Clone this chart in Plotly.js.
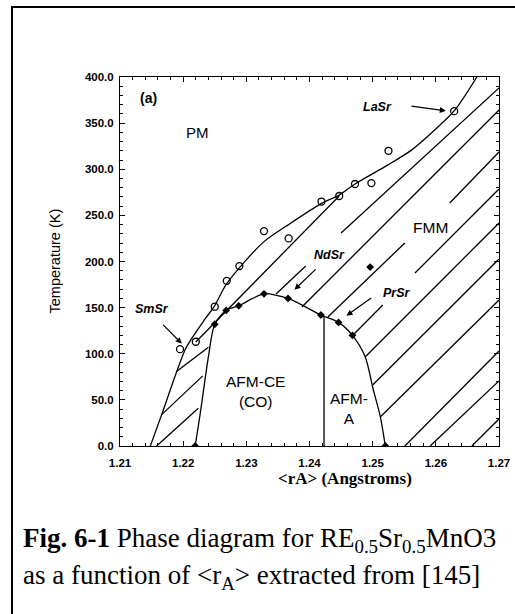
<!DOCTYPE html>
<html><head><meta charset="utf-8">
<script src="https://cdn.plot.ly/plotly-3.0.1.min.js"></script>
<style>
body{margin:0;background:#fff;overflow:hidden}
#chart{position:absolute;left:0;top:0;width:515px;height:614px}
#frame{position:absolute;left:11px;top:6px;width:520px;height:620px;border-left:2px solid #000;border-top:2px solid #000;pointer-events:none;z-index:5}
</style>
</head><body><div id="chart"></div><div id="frame"></div>
<script>
// Open circles: Tc (K) vs <rA>
const tcX = [1.2195, 1.2220, 1.2250, 1.2269, 1.2289, 1.2328, 1.2367, 1.2419, 1.2447, 1.2472, 1.2498, 1.2525, 1.2629];
const tcY = [105, 113, 151, 179, 195, 233, 225, 265, 271, 284, 285, 320, 363];
// Filled diamonds: Tco / TN
const tnX = [1.2219, 1.2250, 1.2268, 1.2288, 1.2328, 1.2366, 1.2418, 1.2446, 1.2468, 1.2520, 1.2496];
const tnY = [0, 132, 147, 152, 165, 160, 142, 134, 120, 0, 194];
// Tc boundary (PM / FM)
const tcLineX = [1.2148, 1.2166, 1.2190, 1.2205, 1.2235, 1.2249, 1.2269, 1.2327, 1.2369, 1.2419, 1.2447, 1.2472, 1.2525, 1.2562, 1.2599, 1.2630, 1.2665];
const tcLineY = [0, 34, 81, 107, 138, 151, 176, 221, 241, 263, 272, 284, 305, 321, 343, 364, 400];
// Charge-order / AFM dome
const domeX = [1.2219, 1.2227, 1.2240, 1.2250, 1.2268, 1.2288, 1.2310, 1.2328, 1.2366, 1.2418, 1.2446, 1.2468, 1.2488, 1.2501, 1.2512, 1.2520];
const domeY = [0, 35, 97, 132, 147, 152, 160, 165, 160, 142, 134, 120, 97, 61, 32, 0];
// AFM-CE / AFM-A border
const borderX = [1.2423, 1.2423];
const borderY = [0, 141];
// Hatch segments [x0, y0, x1, y1]
const hatch = [
  [1.2158, 0, 1.2224, 41],
  [1.2166, 34, 1.2231, 76],
  [1.2190, 81, 1.2240, 107],
  [1.2220, 112.7, 1.2447, 271],
  [1.2347, 164.8, 1.2394, 195.1],
  [1.2450, 230.9, 1.2700, 388.1],
  [1.2388, 150.7, 1.2700, 364.2],
  [1.2429, 139.8, 1.2551, 220.1],
  [1.2622, 263.4, 1.2700, 318.7],
  [1.2469, 120.3, 1.2516, 152.8],
  [1.2567, 187.5, 1.2700, 278.6],
  [1.2488, 96.5, 1.2700, 241.7],
  [1.2500, 66.1, 1.2700, 202.7],
  [1.2512, 31.4, 1.2700, 158.3],
  [1.2551, 0, 1.2700, 103],
  [1.2591, 0, 1.2700, 70.5],
  [1.2657, 0, 1.2700, 29.3]
];
const xTicks = [1.21, 1.22, 1.23, 1.24, 1.25, 1.26, 1.27];
const yTicks = [0, 50, 100, 150, 200, 250, 300, 350, 400];

const hx = [], hy = [];
hatch.forEach(h => { hx.push(h[0], h[2], null); hy.push(h[1], h[3], null); });

const ln = {color: '#000', width: 1.3};
const traces = [
  {x: hx, y: hy, mode: 'lines', line: ln, hoverinfo: 'skip'},
  {x: tcLineX, y: tcLineY, mode: 'lines', line: Object.assign({shape: 'spline', smoothing: 0.8}, ln)},
  {x: domeX, y: domeY, mode: 'lines', line: Object.assign({shape: 'spline', smoothing: 0.8}, ln)},
  {x: borderX, y: borderY, mode: 'lines', line: ln},
  {x: tcX, y: tcY, mode: 'markers', marker: {symbol: 'circle-open', size: 7, color: '#000', line: {width: 1.3, color: '#000'}}},
  {x: tnX, y: tnY, mode: 'markers', marker: {symbol: 'diamond', size: 6, color: '#000'}}
];

const SANS = 'Liberation Sans, Arial';
const SERIF = 'Liberation Serif, Times New Roman';
const lbl = (x, y, t, s) => ({x, y, xref: 'x', yref: 'y', text: t, showarrow: false,
  xanchor: 'center', yanchor: 'middle', font: {family: SANS, size: s, color: '#000'}});
const bil = (x, y, t) => ({x, y, xref: 'x', yref: 'y', text: t, showarrow: false,
  xanchor: 'center', yanchor: 'middle', font: {family: SANS, size: 12.5, color: '#000', weight: 'bold', style: 'italic'}});
const arr = (x, y, ax, ay) => ({x, y, ax, ay, xref: 'x', yref: 'y', axref: 'x', ayref: 'y', text: '',
  showarrow: true, arrowhead: 2, arrowsize: 1, arrowwidth: 1.2, arrowcolor: '#000', standoff: 2});

const annotations = [
  {x: 1.2145, y: 377, xref: 'x', yref: 'y', text: '(a)', showarrow: false, xanchor: 'center', yanchor: 'middle',
   font: {family: SANS, size: 14, color: '#000', weight: 'bold'}},
  lbl(1.2222, 340, 'PM', 15),
  lbl(1.2592, 237, 'FMM', 15.5),
  lbl(1.2315, 59.5, 'AFM-CE<br>(CO)', 15.5),
  lbl(1.2462, 41, 'AFM-<br>A', 15.5),
  bil(1.2507, 367.5, 'LaSr'),
  bil(1.2432, 207, 'NdSr'),
  bil(1.2538, 166, 'PrSr'),
  bil(1.2151, 148.5, 'SmSr'),
  arr(1.2619, 363, 1.2559, 368.6),
  arr(1.2374, 168, 1.2412, 193),
  arr(1.2456, 140, 1.2500, 161.5),
  arr(1.2200, 109.5, 1.2166, 133),
  {xref: 'paper', yref: 'paper', x: (54 - 120) / 379, y: 0.5, xanchor: 'center', yanchor: 'middle',
   text: 'Temperature (K)', textangle: -90, showarrow: false,
   font: {family: SANS, size: 14.5, color: '#000'}},
  {xref: 'paper', yref: 'paper', x: (345 - 120) / 379, y: -(478 - 446) / 369, xanchor: 'center', yanchor: 'middle',
   text: '&lt;rA&gt; (Angstroms)', showarrow: false,
   font: {family: SERIF, size: 17, color: '#000', weight: 'bold'}},
  {xref: 'paper', yref: 'paper', x: (21 - 120) / 379, y: -(540 - 446) / 369, xanchor: 'left', yanchor: 'middle', align: 'left',
   text: '<b>Fig. 6-1</b> Phase diagram for RE<sub>0.5</sub>Sr<sub>0.5</sub>MnO3', showarrow: false,
   font: {family: SERIF, size: 27, color: '#000'}},
  {xref: 'paper', yref: 'paper', x: (21 - 120) / 379, y: -(577 - 446) / 369, xanchor: 'left', yanchor: 'middle', align: 'left',
   text: 'as a function of &lt;r<sub>A</sub>&gt; extracted from [145]', showarrow: false,
   font: {family: SERIF, size: 27, color: '#000'}}
];

const axisCommon = {showline: true, linecolor: '#000', linewidth: 1, ticks: 'inside', ticklen: 5, tickcolor: '#000',
  mirror: 'allticks', showgrid: false, zeroline: false,
  tickfont: {family: SANS, size: 11.5, color: '#000', weight: 'bold'}};

const layout = {
  width: 515, height: 614, showlegend: false,
  margin: {l: 120, r: 16, t: 77, b: 168},
  paper_bgcolor: '#fff', plot_bgcolor: '#fff',
  xaxis: Object.assign({}, axisCommon, {range: [1.21, 1.27], tickvals: xTicks, ticktext: xTicks.map(v => v.toFixed(2)),
    ticklabelstandoff: 6,
    minor: {dtick: 0.002, ticks: 'inside', ticklen: 3, tickcolor: '#000'}}),
  yaxis: Object.assign({}, axisCommon, {range: [0, 400], tickvals: yTicks, ticktext: yTicks.map(v => v.toFixed(1)),
    ticklabelstandoff: 3,
    minor: {dtick: 10, ticks: 'inside', ticklen: 3, tickcolor: '#000'}}),
  annotations
};
Plotly.newPlot('chart', traces, layout, {staticPlot: true});
</script></body></html>
